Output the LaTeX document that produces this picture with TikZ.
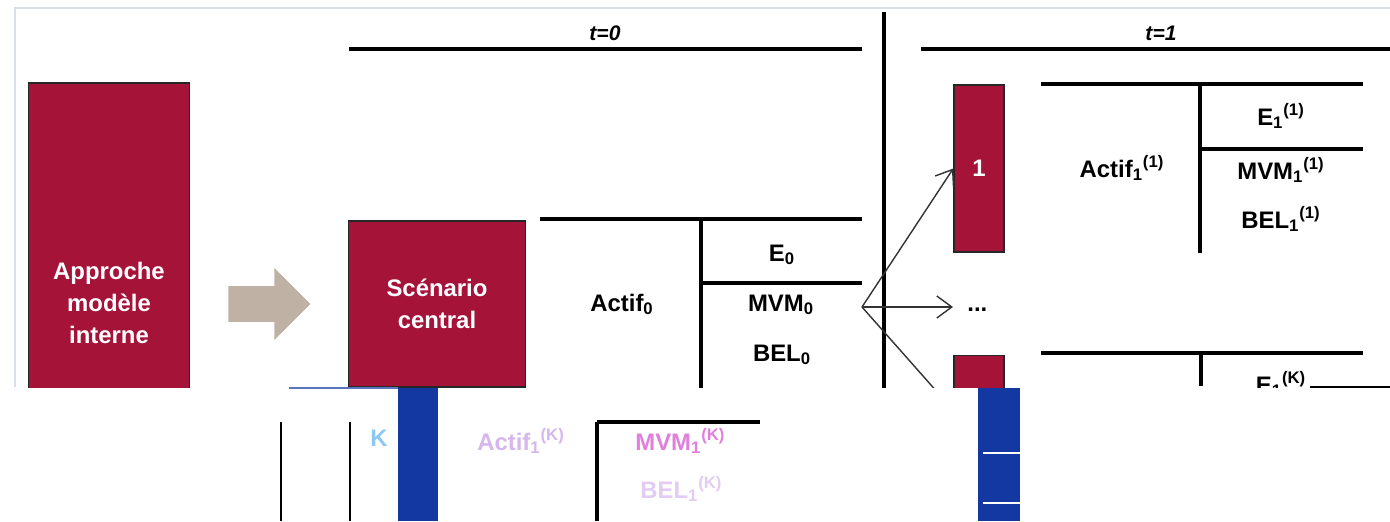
\documentclass[tikz,border=0pt]{standalone}
\usepackage{fontspec}
\setmainfont{Liberation Sans}
\usetikzlibrary{arrows.meta,positioning,calc,shapes.arrows}
\definecolor{Wine}{HTML}{A51339}
\definecolor{Taupe}{HTML}{BFB2A5}
\definecolor{Frame}{HTML}{DADFE9}
\definecolor{Cobalt}{HTML}{1438A2}
\definecolor{Sky}{HTML}{8CC8F2}
\definecolor{Lilac}{HTML}{D6B6EE}
\definecolor{Orchid}{HTML}{E07FDC}
\newcommand{\cellfont}{\fontsize{13.6pt}{18pt}\selectfont\bfseries}
\newcommand{\cellval}[3]{#1\textsubscript{#2}\textsuperscript{(#3)}}
\tikzset{
  winebox/.style={draw=black!85,fill=Wine,text=white,font=\cellfont,align=center,line width=0.8pt,inner sep=0pt},
  rule/.style={line width=2.1pt,draw=black},
  thinrule/.style={line width=1pt,draw=black},
  arr/.style={-{Straight Barb[length=3mm,width=4.4mm]},line width=0.8pt,draw=black!80},
  cell/.style={font=\cellfont,anchor=base,inner sep=0pt},
  stamp/.style={font=\fontsize{12pt}{14pt}\selectfont\bfseries\itshape,inner sep=0pt},
  ghost/.style={font=\fontsize{13.6pt}{16pt}\selectfont\bfseries,anchor=base west,inner sep=0pt}
}
\begin{document}
\begin{tikzpicture}[x=0.02cm,y=-0.02cm]
  \useasboundingbox[fill=white] (0,0) rectangle (1390,521);
  \begin{scope}
    \clip (0,0) rectangle (1390,387);
    \draw[Frame,line width=0.8pt] (15,387) -- (15,8) -- (1390,8);
    \node[winebox,minimum width=3.22cm,minimum height=8.8cm] (approche) at (109,303) {Approche\\modèle\\interne};
    \node[winebox,minimum width=3.54cm,minimum height=3.32cm] (central) at (437,304) {Scénario\\central};
    \node[single arrow,fill=Taupe,draw=none,minimum height=1.64cm,inner sep=0.35cm,single arrow head extend=0.36cm,anchor=tip] (push) at ($(central.west)+(-37,0)$) {};

    \node[stamp] (t0) at (605,33) {t=0};
    \draw[rule] (349,49) -- (862,49);
    \draw[rule] (884,12) -- (884,391);
    \draw[rule] (540,219) -- (862,219);
    \draw[rule] (701,219) -- (701,390);
    \draw[rule] (701,283) -- (862,283);
    \node[cell] (actif0) at (622,311) {Actif\textsubscript{0}};
    \node[cell] (e0) at (782,261) {E\textsubscript{0}};
    \node[cell] (mvm0) at (781,311) {MVM\textsubscript{0}};
    \node[cell] (bel0) at (782,361) {BEL\textsubscript{0}};

    \node[stamp] (t1) at (1161,33) {t=1};
    \draw[rule] (921,49) -- (1390,49);
    \node[winebox,minimum width=1cm,minimum height=3.34cm] (scen1) at (979,168.5) {1};
    \draw[rule] (1041,84) -- (1363,84);
    \draw[rule] (1200,84) -- (1200,253);
    \draw[rule] (1200,149) -- (1363,149);
    \node[cell] (actif1) at (1122,177) {\cellval{Actif}{1}{1}};
    \node[cell] (e1) at (1281,125) {\cellval{E}{1}{1}};
    \node[cell] (mvm1) at (1281,179) {\cellval{MVM}{1}{1}};
    \node[cell] (bel1) at (1281,228) {\cellval{BEL}{1}{1}};

    \node[winebox,minimum width=1cm,minimum height=3.34cm,below=2.04cm of scen1] (scenK) {};
    \draw[rule] (1041,353) -- (1363,353);
    \draw[rule] (1201,353) -- (1201,386);
    \node[cell] (eK) at (1281,393) {\cellval{E}{1}{K}};

    \coordinate (fork) at (862,307);
    \node[cell,inner xsep=0.28cm,anchor=base west] (dots) at (953,311) {...};
    \draw[arr] (fork) -- (scen1.west);
    \draw[arr] (fork) -- (dots.west |- fork);
    \draw[arr] (fork) -- ($(scenK.north west)!0.33!(scenK.south west)$);
  \end{scope}

  \draw[Cobalt!70,line width=0.6pt] (289,388) -- (398,388);
  \fill[Cobalt] (398,388) rectangle (438,521);
  \draw[thinrule] (281,422) -- (281,521);
  \draw[thinrule] (350,422) -- (350,521);
  \node[ghost,text=Sky] (ghostk) at (370,446) {K};
  \node[ghost,text=Lilac] (ghostactif) at (477,450) {\cellval{Actif}{1}{K}};
  \draw[rule] (597,422) -- (760,422);
  \draw[rule] (597,422) -- (597,521);
  \node[ghost,text=Orchid] (ghostmvm) at (635,450) {\cellval{MVM}{1}{K}};
  \node[ghost,text=Lilac!70] (ghostbel) at (640,498) {\cellval{BEL}{1}{K}};
  \fill[Cobalt] (978,388) rectangle (1020,521);
  \draw[white,line width=0.8pt] (983,453) -- (1020,453) (983,503) -- (1020,503);
  \draw[line width=0.8pt] (1310,387) -- (1390,387);
\end{tikzpicture}
\end{document}
